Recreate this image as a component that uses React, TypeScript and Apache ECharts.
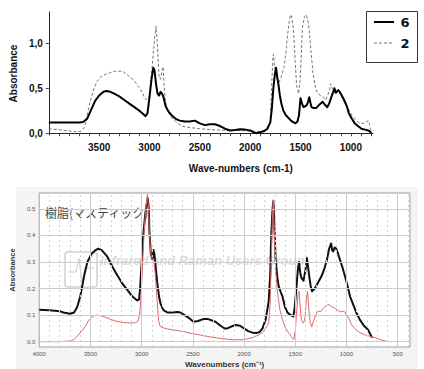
import React, { useEffect, useRef } from "react";
import * as echarts from "echarts";

// Upper panel: IR spectra of samples 6 and 2 (wavenumber, absorbance)
const sample6: [number, number][] = [
  [4000, 0.12], [3900, 0.12], [3800, 0.12], [3700, 0.12], [3660, 0.125], [3620, 0.16],
  [3580, 0.26], [3540, 0.36], [3500, 0.42], [3460, 0.46], [3430, 0.47], [3400, 0.465],
  [3350, 0.44], [3300, 0.41], [3250, 0.37], [3200, 0.33], [3150, 0.29], [3100, 0.25],
  [3060, 0.21], [3040, 0.19], [3020, 0.22], [3000, 0.4], [2980, 0.6], [2962, 0.73],
  [2950, 0.7], [2935, 0.55], [2920, 0.44], [2905, 0.42], [2890, 0.46], [2875, 0.44],
  [2860, 0.4], [2840, 0.3], [2810, 0.24], [2780, 0.2], [2740, 0.16], [2700, 0.14],
  [2650, 0.13], [2600, 0.13], [2550, 0.14], [2500, 0.11], [2450, 0.09], [2400, 0.1],
  [2350, 0.1], [2300, 0.08], [2250, 0.05], [2200, 0.03], [2150, 0.035], [2100, 0.045],
  [2050, 0.04], [2000, 0.03], [1960, 0.01], [1940, 0.0], [1900, 0.01], [1860, 0.025],
  [1830, 0.05], [1800, 0.12], [1785, 0.27], [1770, 0.5], [1755, 0.65], [1743, 0.73],
  [1730, 0.62], [1720, 0.55], [1705, 0.42], [1690, 0.33], [1670, 0.25], [1645, 0.2],
  [1620, 0.17], [1595, 0.14], [1570, 0.12], [1550, 0.11], [1530, 0.13], [1515, 0.2],
  [1500, 0.39], [1485, 0.33], [1470, 0.29], [1455, 0.3], [1440, 0.31], [1425, 0.35],
  [1413, 0.4], [1400, 0.33], [1390, 0.29], [1370, 0.28], [1345, 0.28], [1320, 0.31],
  [1300, 0.33], [1280, 0.35], [1260, 0.32], [1235, 0.29], [1215, 0.33], [1195, 0.4],
  [1175, 0.46], [1163, 0.5], [1150, 0.45], [1140, 0.46], [1125, 0.48], [1110, 0.46],
  [1090, 0.42], [1067, 0.37], [1040, 0.3], [1019, 0.22], [990, 0.16], [962, 0.11],
  [930, 0.08], [894, 0.05], [860, 0.04], [827, 0.03], [810, 0.02], [798, 0.0],
];

const sample2: [number, number][] = [
  [4000, 0.05], [3900, 0.04], [3800, 0.025], [3720, 0.015], [3680, 0.02], [3650, 0.06],
  [3630, 0.13], [3610, 0.25], [3585, 0.37], [3550, 0.5], [3520, 0.58], [3490, 0.62],
  [3450, 0.65], [3400, 0.67], [3350, 0.69], [3300, 0.69], [3269, 0.69], [3230, 0.66],
  [3190, 0.62], [3154, 0.59], [3110, 0.52], [3070, 0.45], [3048, 0.39], [3020, 0.37],
  [3005, 0.4], [2985, 0.6], [2965, 0.85], [2950, 1.05], [2935, 1.19], [2922, 1.0],
  [2905, 0.62], [2890, 0.6], [2875, 0.7], [2865, 0.74], [2855, 0.55], [2845, 0.38],
  [2820, 0.25], [2790, 0.19], [2770, 0.16], [2720, 0.11], [2680, 0.08], [2640, 0.07],
  [2580, 0.06], [2500, 0.05], [2400, 0.04], [2300, 0.035], [2200, 0.03], [2100, 0.03],
  [2000, 0.025], [1950, 0.02], [1900, 0.02], [1850, 0.03], [1820, 0.05], [1800, 0.12],
  [1788, 0.5], [1775, 0.82], [1769, 0.88], [1760, 0.78], [1745, 0.64], [1730, 0.6],
  [1712, 0.57], [1690, 0.63], [1663, 0.74], [1645, 0.9], [1635, 1.03], [1615, 1.22],
  [1600, 1.32], [1590, 1.31], [1575, 1.2], [1567, 1.11], [1553, 0.8], [1538, 0.52],
  [1519, 0.44], [1505, 0.58], [1495, 0.8], [1481, 1.18], [1460, 1.3], [1442, 1.32],
  [1425, 1.24], [1413, 1.14], [1395, 0.9], [1375, 0.66], [1350, 0.5], [1327, 0.44],
  [1300, 0.42], [1279, 0.41], [1250, 0.37], [1230, 0.42], [1211, 0.48], [1202, 0.55],
  [1185, 0.5], [1163, 0.46], [1140, 0.47], [1115, 0.46], [1090, 0.4], [1058, 0.33],
  [1020, 0.26], [990, 0.2], [955, 0.15], [923, 0.12], [890, 0.11], [865, 0.11],
  [840, 0.13], [827, 0.14], [815, 0.1], [808, 0.05], [790, 0.02],
];

// Lower panel: mastic resin reference spectra
const masticBlack: [number, number][] = [
  [4000, 0.12], [3900, 0.118], [3800, 0.115], [3765, 0.11], [3700, 0.105], [3660, 0.11],
  [3630, 0.13], [3600, 0.17], [3580, 0.21], [3555, 0.26], [3530, 0.3], [3490, 0.33],
  [3450, 0.345], [3423, 0.35], [3390, 0.345], [3335, 0.32], [3290, 0.285], [3238, 0.25],
  [3190, 0.22], [3140, 0.195], [3090, 0.17], [3042, 0.155], [3025, 0.16], [3015, 0.2],
  [3000, 0.3], [2985, 0.4], [2965, 0.48], [2950, 0.52], [2940, 0.54], [2930, 0.5],
  [2925, 0.42], [2910, 0.33], [2895, 0.31], [2885, 0.345], [2876, 0.33], [2860, 0.27],
  [2847, 0.22], [2830, 0.17], [2817, 0.145], [2790, 0.12], [2749, 0.11], [2700, 0.11],
  [2650, 0.112], [2622, 0.11], [2580, 0.1], [2540, 0.09], [2495, 0.075], [2450, 0.078],
  [2400, 0.085], [2350, 0.085], [2280, 0.075], [2230, 0.06], [2190, 0.05], [2163, 0.05],
  [2120, 0.058], [2080, 0.063], [2040, 0.06], [2000, 0.05], [1960, 0.04], [1918, 0.034],
  [1880, 0.033], [1850, 0.036], [1820, 0.05], [1790, 0.083], [1760, 0.15], [1745, 0.25],
  [1734, 0.41], [1722, 0.5], [1714, 0.53], [1705, 0.45], [1692, 0.31], [1675, 0.24],
  [1663, 0.21], [1645, 0.19], [1625, 0.17], [1600, 0.13], [1577, 0.11], [1545, 0.1],
  [1519, 0.095], [1505, 0.13], [1490, 0.2], [1475, 0.27], [1463, 0.3], [1452, 0.26],
  [1440, 0.24], [1420, 0.23], [1400, 0.27], [1387, 0.315], [1378, 0.29], [1365, 0.25],
  [1350, 0.21], [1337, 0.19], [1310, 0.2], [1288, 0.215], [1260, 0.235], [1240, 0.25],
  [1212, 0.28], [1190, 0.31], [1170, 0.35], [1150, 0.37], [1140, 0.345], [1130, 0.34],
  [1115, 0.355], [1100, 0.35], [1085, 0.335], [1065, 0.31], [1040, 0.28], [1010, 0.24],
  [990, 0.21], [965, 0.17], [940, 0.145], [905, 0.11], [870, 0.083], [830, 0.06],
  [790, 0.045], [770, 0.03], [750, 0.015],
];

const masticRed: [number, number][] = [
  [4000, 0.0], [3800, 0.0], [3700, 0.003], [3660, 0.008], [3620, 0.025], [3580, 0.042],
  [3550, 0.058], [3520, 0.078], [3490, 0.092], [3460, 0.098], [3435, 0.1], [3400, 0.098],
  [3340, 0.09], [3290, 0.082], [3240, 0.076], [3180, 0.072], [3110, 0.07], [3060, 0.072],
  [3035, 0.078], [3020, 0.1], [3005, 0.18], [2990, 0.3], [2975, 0.42], [2960, 0.5],
  [2944, 0.555], [2932, 0.5], [2925, 0.41], [2910, 0.33], [2895, 0.31], [2880, 0.31],
  [2865, 0.24], [2847, 0.145], [2835, 0.08], [2820, 0.058], [2790, 0.052], [2749, 0.048],
  [2700, 0.045], [2622, 0.04], [2590, 0.038], [2500, 0.03], [2427, 0.025], [2360, 0.02],
  [2250, 0.013], [2105, 0.007], [2000, 0.008], [1920, 0.015], [1860, 0.025], [1824, 0.034],
  [1790, 0.05], [1760, 0.07], [1745, 0.15], [1735, 0.3], [1725, 0.45], [1715, 0.535],
  [1708, 0.45], [1702, 0.37], [1690, 0.26], [1673, 0.185], [1650, 0.12], [1625, 0.083],
  [1600, 0.055], [1567, 0.034], [1540, 0.02], [1515, 0.008], [1500, 0.04], [1485, 0.12],
  [1472, 0.185], [1463, 0.19], [1452, 0.13], [1440, 0.08], [1420, 0.07], [1405, 0.09],
  [1392, 0.16], [1380, 0.19], [1370, 0.13], [1355, 0.075], [1340, 0.056], [1320, 0.08],
  [1300, 0.1], [1290, 0.11], [1270, 0.115], [1250, 0.113], [1230, 0.125], [1200, 0.135],
  [1170, 0.14], [1150, 0.133], [1120, 0.128], [1090, 0.12], [1060, 0.112], [1040, 0.115],
  [1020, 0.113], [1000, 0.1], [980, 0.09], [950, 0.064], [920, 0.05], [870, 0.034],
  [820, 0.026], [770, 0.02], [720, 0.015], [670, 0.008], [620, 0.003], [600, 0.0],
];

// Axis ticks and labels
const topXLabels = [3500, 3000, 2500, 2000, 1500, 1000];
const topXTicks = [3900, 3800, 3700, 3600, 3500, 3400, 3300, 3200, 3100, 3000, 2900, 2800,
  2700, 2600, 2500, 2400, 2300, 2200, 2100, 2000, 1900, 1800, 1700, 1600, 1500, 1400,
  1300, 1200, 1100, 1000, 900, 800];
const topYLabels = [0, 0.5, 1.0];
const bottomXLabels = [4000, 3500, 3000, 2500, 2000, 1500, 1000, 500];
const bottomYLabels = [0, 0.1, 0.2, 0.3, 0.4, 0.5];
const bottomMinorX = [3900, 3800, 3700, 3600, 3400, 3300, 3200, 3100, 2900, 2800, 2700,
  2600, 2400, 2300, 2200, 2100, 1900, 1800, 1700, 1600, 1400, 1300, 1200, 1100, 900,
  800, 700, 600, 400];
const bottomMajorX = [3500, 3000, 2500, 2000, 1500, 1000, 500];
const legendNames = ["6", "2"];

const FONT = "Liberation Sans, Arial, sans-serif";
const COLOR_6 = "#000";
const COLOR_2 = "#777";

export default function App() {
  const ref = useRef<HTMLDivElement>(null);

  useEffect(() => {
    if (!ref.current) return;
    const chart = echarts.init(ref.current, undefined, { renderer: "svg" });

    const gridLines: any[] = [
      ...bottomMinorX.map((v) => ({
        xAxis: v,
        lineStyle: { color: "#d2d2d2", width: 1, type: [2, 3] },
      })),
      ...bottomMajorX.map((v) => ({
        xAxis: v,
        lineStyle: { color: "#cccccc", width: 1, type: "solid" },
      })),
      ...bottomYLabels.map((v) => ({
        yAxis: v,
        lineStyle: { color: "#cccccc", width: 1, type: "solid" },
      })),
    ];

    const plainNumber = (v: number) => String(v);

    chart.setOption({
      animation: false,
      backgroundColor: "#ffffff",
      graphic: [
        {
          type: "rect",
          z: -10,
          shape: { x: 16, y: 187, width: 402, height: 182 },
          style: { fill: "#f4f4f4" },
          silent: true,
        },
        // key box for the upper panel
        {
          type: "group",
          z: 10,
          children: [
            {
              type: "rect",
              shape: { x: 366.5, y: 11.5, width: 51, height: 51 },
              style: { fill: "#fff", stroke: "#333", lineWidth: 1 },
            },
            {
              type: "line",
              shape: { x1: 374, y1: 22, x2: 394, y2: 22 },
              style: { stroke: COLOR_6, lineWidth: 2 },
            },
            {
              type: "text",
              x: 405,
              y: 22,
              style: {
                text: legendNames[0], fontFamily: "DejaVu Sans", fontWeight: "bold",
                fontSize: 13, fill: "#111", align: "center", verticalAlign: "middle",
              },
            },
            {
              type: "line",
              shape: { x1: 374, y1: 43, x2: 394, y2: 43 },
              style: { stroke: COLOR_2, lineWidth: 1, lineDash: [3, 2] },
            },
            {
              type: "text",
              x: 405,
              y: 43,
              style: {
                text: legendNames[1], fontFamily: "DejaVu Sans", fontWeight: "bold",
                fontSize: 13, fill: "#111", align: "center", verticalAlign: "middle",
              },
            },
          ],
        },
        {
          type: "rect",
          z: 1,
          shape: { x: 65, y: 252, width: 32, height: 35, r: 3 },
          style: { fill: "none", stroke: "rgba(150,150,150,0.45)", lineWidth: 1.5 },
          silent: true,
        },
        {
          type: "polyline",
          z: 1,
          shape: { points: [[68, 272], [76, 272], [79, 258], [82, 283], [85, 268], [94, 268]] },
          style: { fill: "none", stroke: "rgba(150,150,150,0.45)", lineWidth: 1.2 },
          silent: true,
        },
        {
          type: "text",
          z: 1,
          x: 100,
          y: 260,
          style: {
            text: "Infrared and Raman Users Group",
            fontFamily: FONT,
            fontStyle: "italic",
            fontWeight: "bold",
            fontSize: 13,
            fill: "rgba(150,150,150,0.35)",
            verticalAlign: "middle",
          },
          silent: true,
        },
        {
          type: "text",
          z: 5,
          x: 45,
          y: 212,
          style: {
            text: "樹脂(マスティック)",
            fontFamily: "Noto Sans CJK JP",
            fontSize: 12,
            fill: "#444",
            verticalAlign: "middle",
          },
          silent: true,
        },
      ],
      grid: [
        { left: 39, top: 12, width: 334, height: 123 },
        {
          left: 38, top: 193, width: 372, height: 154, show: true,
          backgroundColor: "#ffffff", borderColor: "#a0a0a0", borderWidth: 1,
        },
      ],
      xAxis: [
        {
          type: "value",
          gridIndex: 0,
          inverse: true,
          min: 780,
          max: 4000,
          axisLine: { show: true, lineStyle: { color: "#222", width: 1 } },
          axisTick: { show: true, customValues: topXTicks, length: 3, lineStyle: { color: "#444" } },
          axisLabel: {
            customValues: topXLabels,
            formatter: plainNumber,
            fontFamily: FONT, fontWeight: "bold", fontSize: 10, color: "#111", margin: 7,
          },
          splitLine: { show: false },
          name: "Wave-numbers (cm-1)",
          nameLocation: "middle",
          nameGap: 28,
          nameTextStyle: {
            fontFamily: FONT, fontWeight: "bold", fontSize: 10, color: "#111",
            padding: [0, 0, 0, 60],
          },
        },
        {
          type: "value",
          gridIndex: 1,
          inverse: true,
          min: 380,
          max: 4000,
          axisLine: { show: false },
          axisTick: { show: false },
          axisLabel: {
            customValues: bottomXLabels,
            formatter: plainNumber,
            fontFamily: FONT, fontSize: 6, color: "#555", margin: 4,
          },
          splitLine: { show: false },
          name: "Wavenumbers (cm⁻¹)",
          nameLocation: "middle",
          nameGap: 13,
          nameTextStyle: { fontFamily: FONT, fontWeight: "bold", fontSize: 8, color: "#333" },
        },
      ],
      yAxis: [
        {
          type: "value",
          gridIndex: 0,
          min: -0.02,
          max: 1.35,
          axisLine: { show: true, lineStyle: { color: "#222", width: 1 } },
          axisTick: { show: true, customValues: topYLabels, length: 3, lineStyle: { color: "#444" } },
          axisLabel: {
            customValues: topYLabels,
            formatter: (v: number) => v.toFixed(1).replace(".", ","),
            fontFamily: FONT, fontWeight: "bold", fontSize: 10, color: "#111", margin: 6,
          },
          splitLine: { show: false },
          name: "Absorbance",
          nameLocation: "middle",
          nameGap: 26,
          nameRotate: 90,
          nameTextStyle: { fontFamily: FONT, fontWeight: "bold", fontSize: 10, color: "#111" },
        },
        {
          type: "value",
          gridIndex: 1,
          min: -0.02,
          max: 0.56,
          axisLine: { show: false },
          axisTick: { show: false },
          axisLabel: {
            customValues: bottomYLabels,
            formatter: (v: number) => v.toFixed(1),
            fontFamily: FONT, fontSize: 6, color: "#555", margin: 4,
          },
          splitLine: { show: false },
          name: "Absorbance",
          nameLocation: "middle",
          nameGap: 17,
          nameRotate: 90,
          nameTextStyle: { fontFamily: FONT, fontWeight: "bold", fontSize: 7.5, color: "#333" },
        },
      ],
      series: [
        {
          name: legendNames[1],
          type: "line",
          xAxisIndex: 0,
          yAxisIndex: 0,
          data: sample2,
          showSymbol: false,
          symbol: "none",
          z: 3,
          lineStyle: { color: COLOR_2, width: 1, type: [3, 2] },
        },
        {
          name: legendNames[0],
          type: "line",
          xAxisIndex: 0,
          yAxisIndex: 0,
          data: sample6,
          showSymbol: false,
          symbol: "none",
          z: 4,
          lineStyle: { color: COLOR_6, width: 2, join: "round" },
        },
        {
          name: "grid",
          type: "line",
          xAxisIndex: 1,
          yAxisIndex: 1,
          data: [],
          z: 1,
          silent: true,
          markLine: {
            silent: true,
            symbol: "none",
            label: { show: false },
            data: gridLines,
          },
        },
        {
          name: "mastic",
          type: "line",
          xAxisIndex: 1,
          yAxisIndex: 1,
          data: masticBlack,
          showSymbol: false,
          symbol: "none",
          z: 3,
          lineStyle: { color: "#111", width: 2, join: "round" },
        },
        {
          name: "mastic (red)",
          type: "line",
          xAxisIndex: 1,
          yAxisIndex: 1,
          data: masticRed,
          showSymbol: false,
          symbol: "none",
          z: 4,
          lineStyle: { color: "#e0686b", width: 1 },
        },
      ],
    });

    return () => chart.dispose();
  }, []);

  return (
    <div
      ref={ref}
      style={{ position: "fixed", left: 0, top: 0, width: 424, height: 369 }}
    />
  );
}
